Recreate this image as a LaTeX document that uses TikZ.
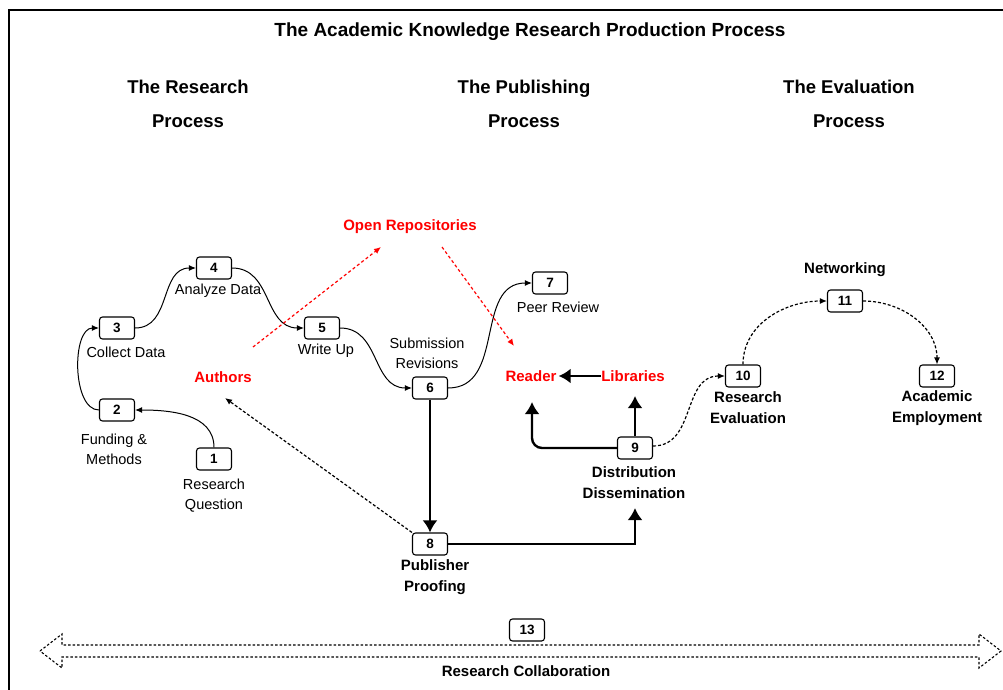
\documentclass[tikz,border=0pt]{standalone}
\usepackage{fontspec}
\setmainfont{Liberation Sans}
\usetikzlibrary{arrows.meta}
\begin{document}
\begin{tikzpicture}[x=1pt,y=-1pt,
  box/.style={draw, line width=1.1pt, rounded corners=3pt, minimum width=35pt, minimum height=22pt, inner sep=0pt, font=\fontsize{13.5}{15}\selectfont\bfseries},
  lbl/.style={font=\fontsize{14.5}{20}\selectfont, align=center, inner sep=0pt},
  blbl/.style={font=\fontsize{15}{21}\selectfont\bfseries, align=center, inner sep=0pt},
  hdr/.style={font=\fontsize{18.5}{34}\selectfont\bfseries, align=center, inner sep=0pt},
  ttl/.style={font=\fontsize{19}{22}\selectfont\bfseries, inner sep=0pt},
  rlbl/.style={font=\fontsize{15}{17}\selectfont\bfseries, text=red, inner sep=0pt},
  conn/.style={line width=1pt, -{Latex[length=7pt,width=6pt]}},
  dconn/.style={line width=1.2pt, dash pattern=on 3pt off 2pt, -{Latex[length=7pt,width=6pt]}},
  rconn/.style={line width=1.2pt, red, dash pattern=on 3pt off 2.5pt, -{Latex[length=7pt,width=6pt]}},
  bigconn/.style={line width=2.4pt, -{Latex[length=12pt,width=15pt]}},
]
\useasboundingbox (0,0) rectangle (1003,690);
\fill[white] (0,0) rectangle (1003,690);
% frame
\draw[line width=1.4pt] (9,690) -- (9,10) -- (1003,10);

% titles
\node[ttl] (title) at (530,32) {The Academic Knowledge Research Production Process};
\node[hdr] (h1) at (188,104) {The Research\\Process};
\node[hdr] (h2) at (524,104) {The Publishing\\Process};
\node[hdr] (h3) at (849,104) {The Evaluation\\Process};

% boxes
\node[box] (n1) at (214,459) {1};
\node[box] (n2) at (117,410) {2};
\node[box] (n3) at (117,328) {3};
\node[box] (n4) at (214,268) {4};
\node[box] (n5) at (322,328) {5};
\node[box] (n6) at (430,388) {6};
\node[box] (n7) at (550,283) {7};
\node[box] (n8) at (430,544) {8};
\node[box] (n9) at (635,448) {9};
\node[box] (n10) at (743,376) {10};
\node[box] (n11) at (845,301) {11};
\node[box] (n12) at (937,376) {12};
\node[box] (n13) at (527,630) {13};

% labels
\node[lbl] (l1) at (214,496) {Research\\Question};
\node[lbl] (l2) at (114,449) {Funding \&\\Methods};
\node[lbl] (l3) at (126,352) {Collect Data};
\node[lbl] (l4) at (218,291) {Analyze Data};
\node[lbl] (l5) at (326,351) {Write Up};
\node[lbl] (l6) at (427,353) {Submission\\Revisions};
\node[lbl] (l7) at (558,307) {Peer Review};
\node[blbl] (l8) at (435,577) {Publisher\\Proofing};
\node[blbl] (l9) at (634,483) {Distribution\\Dissemination};
\node[blbl] (l10) at (748,408) {Research\\Evaluation};
\node[blbl] (l11) at (845,270) {Networking};
\node[blbl] (l12) at (937,408) {Academic\\Employment};
\node[blbl] (l13) at (526,671) {Research Collaboration};

\node[rlbl] (authors) at (223,377) {Authors};
\node[rlbl] (orep) at (410,227) {Open Repositories};
\node[rlbl] (reader) at (531,376) {Reader};
\node[rlbl] (libraries) at (633,376) {Libraries};

% research process
\draw[conn] (n1.north) to[out=90,in=0] (n2.east);
\draw[conn] (n2.west) to[out=180,in=180,looseness=0.85] (n3.west);
\draw[conn] (n3.east) to[out=0,in=180,looseness=1.1] (n4.west);
\draw[conn] (n4.east) to[out=0,in=180,looseness=1.1] (n5.west);
\draw[conn] (n5.east) to[out=0,in=180,looseness=1.1] (n6.west);
\draw[conn] (n6.east) to[out=0,in=180,looseness=1.1] (n7.west);

% publishing
\coordinate (rtip) at (532,402);
\coordinate (ltip) at (635,396);
\coordinate (dtip) at (635,508);
\draw[bigconn] (n6.south) -- (n8.north);
\draw[bigconn] (n8.east) -| (dtip);
\draw[bigconn, rounded corners=10pt] (n9.west) -| (rtip);
\draw[bigconn] (n9.north) -- (ltip);
\draw[bigconn] (libraries.west) -- ([xshift=2pt]reader.east);

% dotted
\coordinate (atip) at (225,398);
\draw[dconn] (n8.north west) -- (atip);
\coordinate (ra1) at (253,347);
\coordinate (ra2) at (381,247);
\coordinate (rb1) at (442,247);
\coordinate (rb2) at (514,346);
\draw[rconn] (ra1) -- (ra2);
\draw[rconn] (rb1) -- (rb2);

% evaluation
\draw[dconn] ([yshift=2pt]n9.east) to[out=0,in=180,looseness=1.1] (n10.west);
\draw[dconn] (n10.north) to[out=90,in=180] (n11.west);
\draw[dconn] (n11.east) to[out=0,in=90] (n12.north);

% collaboration double arrow
\draw[line width=1.1pt, dash pattern=on 2.5pt off 2pt]
  (40,651) -- (62,634) -- (62,645) -- (979,645) -- (979,634) -- (1001,651)
  -- (979,668) -- (979,657) -- (62,657) -- (62,668) -- cycle;
\end{tikzpicture}
\end{document}
